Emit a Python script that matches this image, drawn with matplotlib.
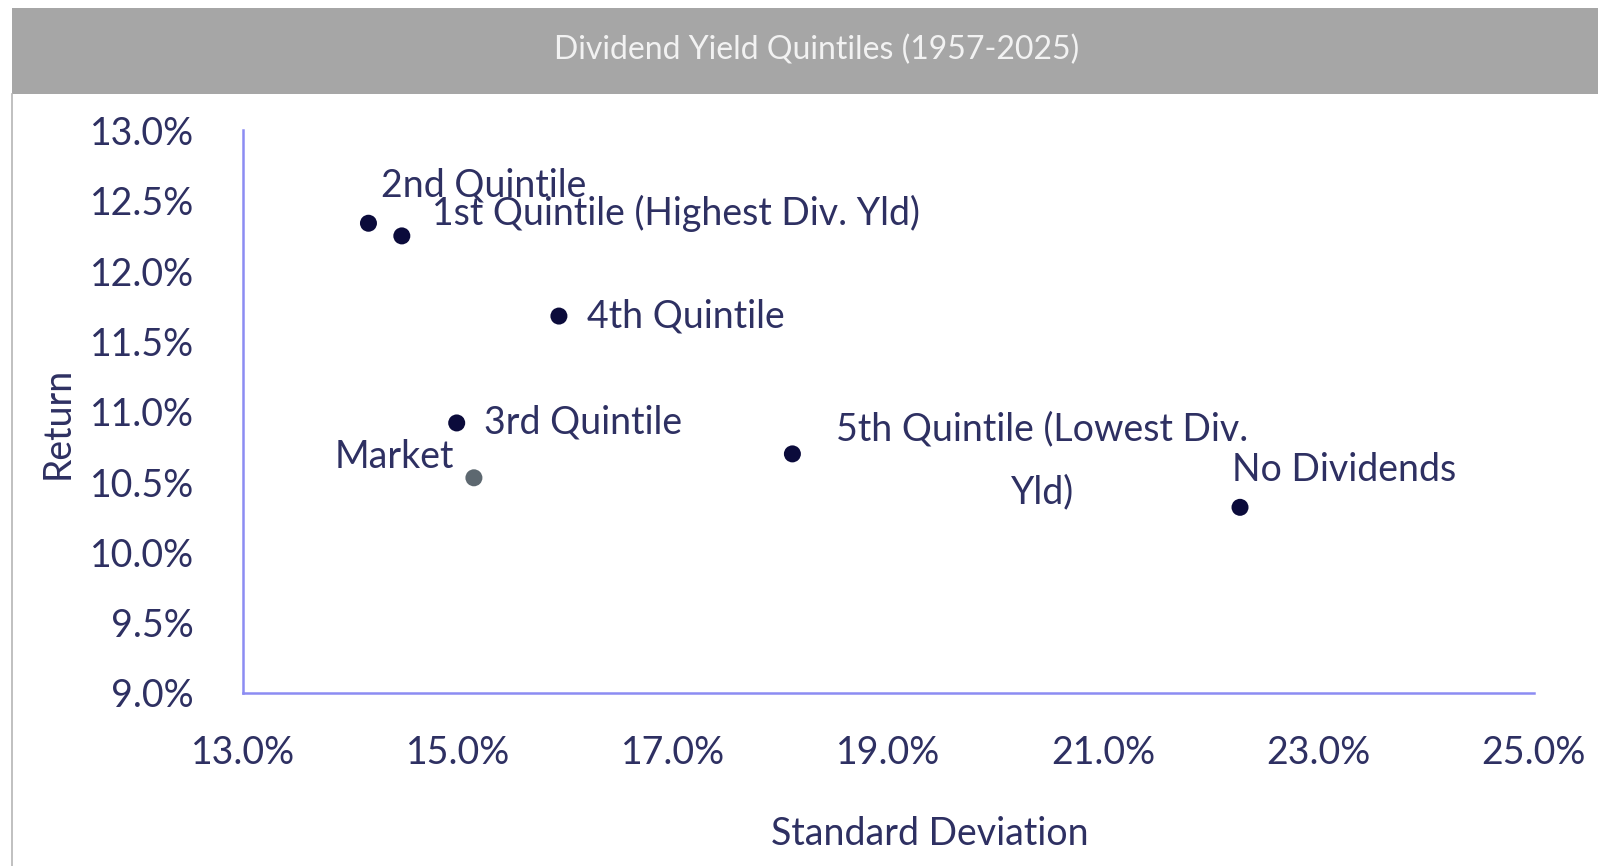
import matplotlib.pyplot as plt
from matplotlib.patches import Rectangle
from matplotlib.lines import Line2D
from matplotlib.ticker import FuncFormatter

# standard deviation (%) and return (%) per group
names = ["2nd Quintile", "1st Quintile (Highest Div. Yld)", "4th Quintile", "3rd Quintile",
         "Market", "5th Quintile (Lowest Div.\nYld)", "No Dividends"]
std_dev = [14.17, 14.48, 15.94, 14.99, 15.15, 18.11, 22.27]
returns = [12.34, 12.25, 11.68, 10.92, 10.53, 10.70, 10.32]
dot_colors = ["#0b0b3b", "#0b0b3b", "#0b0b3b", "#0b0b3b", "#5d6870", "#0b0b3b", "#0b0b3b"]

x_ticks = [13, 15, 17, 19, 21, 23, 25]
y_ticks = [9.0, 9.5, 10.0, 10.5, 11.0, 11.5, 12.0, 12.5, 13.0]

# label offsets in points (dx, dy, ha)
label_pos = [(9, 27, "left"), (22, 16, "left"), (20, 0, "left"), (20, 0, "left"),
             (-14, 15, "right"), (180, -5, "center"), (-6, 27, "left")]

text_color = "#2e3062"
plt.rcParams["font.family"] = ["Lato", "DejaVu Sans"]

fig = plt.figure(figsize=(15.98, 8.66), dpi=100)
ax = fig.add_axes([0.1518, 0.1998, 0.808, 0.6496])

# title bar
fig.patches.append(Rectangle((0.0077, 0.8915), 1.0, 0.099, transform=fig.transFigure,
                             facecolor="#a6a6a6", edgecolor="none"))
fig.lines.append(Line2D([0.0077, 0.0077], [0.0, 0.8915], transform=fig.transFigure,
                        color="#b5b5b5", linewidth=1.2))
fig.text(0.511, 0.942, "Dividend Yield Quintiles (1957-2025)", ha="center", va="center",
         fontsize=23, color="#f2f2f2")

ax.scatter(std_dev, returns, s=150, c=dot_colors, zorder=3, linewidths=0)
for n, x, y, (dx, dy, ha) in zip(names, std_dev, returns, label_pos):
    ax.annotate(n, (x, y), xytext=(dx, dy), textcoords="offset points", ha=ha, va="center",
                fontsize=27, color=text_color, multialignment="center", linespacing=1.95)

ax.set_xlim(13, 25)
ax.set_ylim(9, 13)
ax.set_xticks(x_ticks)
ax.set_yticks(y_ticks)
pct = FuncFormatter(lambda v, p: f"{v:.1f}%")
ax.xaxis.set_major_formatter(pct)
ax.yaxis.set_major_formatter(pct)
ax.tick_params(axis="both", length=0, labelsize=27, labelcolor=text_color)
ax.tick_params(axis="x", pad=30)
ax.tick_params(axis="y", pad=35)

for s in ["top", "right"]:
    ax.spines[s].set_visible(False)
for s in ["left", "bottom"]:
    ax.spines[s].set_color("#8c8cf2")
    ax.spines[s].set_linewidth(1.8)

ax.set_xlabel("Standard Deviation", fontsize=27, color=text_color)
ax.set_ylabel("Return", fontsize=27, color=text_color)
ax.xaxis.set_label_coords(0.532, -0.25)
ax.xaxis.label.set_va("center")
ax.yaxis.set_label_coords(-0.143, 0.48)
ax.yaxis.label.set_va("center")

fig.savefig("out.png", dpi=100)
